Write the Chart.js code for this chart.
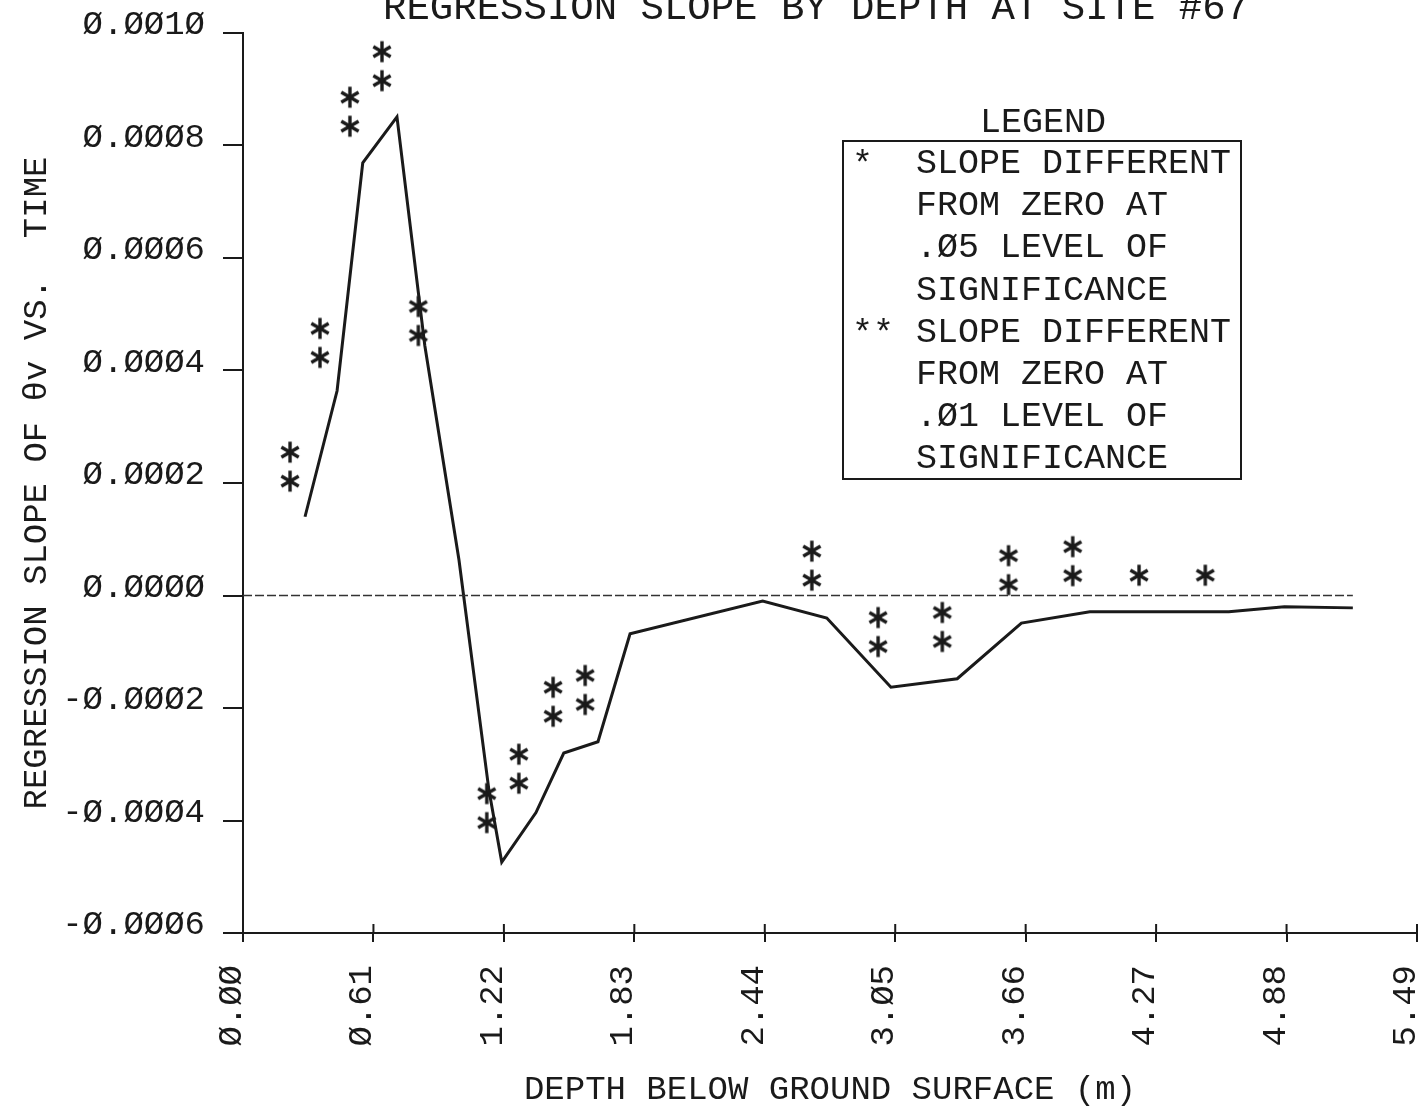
<!DOCTYPE html>
<html>
<head>
<meta charset="utf-8">
<script src="https://cdn.jsdelivr.net/npm/chart.js@4/dist/chart.umd.min.js"></script>
<style>
html,body{margin:0;padding:0;background:#fff;overflow:hidden}
#wrap{width:1424px;height:1110px;position:relative;background:#fff}
</style>
</head>
<body>
<div id="wrap"><canvas id="c" width="1424" height="1110"></canvas></div>
<script>
// ---- text ----
const chartTitle = "REGRESSION SLOPE BY DEPTH AT SITE #67";
const xAxisTitle = "DEPTH BELOW GROUND SURFACE (m)";
const yAxisTitle = "REGRESSION SLOPE OF θv VS.  TIME";

// ---- tick values / labels ----
const xTickValues = [0, 0.61, 1.22, 1.83, 2.44, 3.05, 3.66, 4.27, 4.88, 5.49];
const xTickLabels = ["Ø.ØØ", "Ø.61", "1.22", "1.83", "2.44", "3.Ø5", "3.66", "4.27", "4.88", "5.49"];
const yTickValues = [-0.0006, -0.0004, -0.0002, 0, 0.0002, 0.0004, 0.0006, 0.0008, 0.0010];
const yTickLabels = ["-Ø.ØØØ6", "-Ø.ØØØ4", "-Ø.ØØØ2", "Ø.ØØØØ", "Ø.ØØØ2", "Ø.ØØØ4", "Ø.ØØØ6", "Ø.ØØØ8", "Ø.ØØ1Ø"];

// ---- regression slope by depth (line) ----
const lineDepth = [0.29, 0.44, 0.56, 0.72, 0.85, 1.01, 1.15, 1.21, 1.37, 1.50, 1.66, 1.81, 2.43, 2.73, 3.03, 3.34, 3.64, 3.96, 4.61, 4.87, 5.19];
const lineSlope = [0.000140, 0.000364, 0.000769, 0.000851, 0.000445, 0.000063, -0.000346, -0.000474, -0.000386, -0.000280, -0.000260, -0.000068, -0.000010, -0.000040, -0.000163, -0.000148, -0.000049, -0.000029, -0.000029, -0.000020, -0.000022];

// ---- zero reference line ----
const zeroDepth = [0, 5.19];
const zeroSlope = [0, 0];

// ---- significance markers: ** (.01 level) ----
const sig01Depth = [0.22, 0.36, 0.50, 0.65, 0.82, 1.14, 1.29, 1.45, 1.60, 2.66, 2.97, 3.27, 3.58, 3.88];
const sig01Slope = [0.000229, 0.000449, 0.000860, 0.000941, 0.000488, -0.000378, -0.000308, -0.000189, -0.000168, 0.000053, -0.000065, -0.000056, 0.000045, 0.000061];

// ---- significance markers: * (.05 level) ----
const sig05Depth = [4.19, 4.50];
const sig05Slope = [0.000036, 0.000036];

// ---- legend ----
const legendTitle = "LEGEND";
const legendSymbols = ["*", "**"];
const legendLines = [
  ["SLOPE DIFFERENT", "FROM ZERO AT", ".Ø5 LEVEL OF", "SIGNIFICANCE"],
  ["SLOPE DIFFERENT", "FROM ZERO AT", ".Ø1 LEVEL OF", "SIGNIFICANCE"]
];

const INK = '#1a1a1a';
const FONT = '"Liberation Mono", "DejaVu Sans Mono", monospace';

function starImage(n) {
  const c = document.createElement('canvas');
  const w = 24, gap = 29;
  c.width = w; c.height = w + (n - 1) * gap;
  const g = c.getContext('2d');
  g.strokeStyle = INK; g.lineWidth = 3.4; g.lineCap = 'butt';
  for (let k = 0; k < n; k++) {
    const cx = w / 2, cy = w / 2 + k * gap;
    [[90, 10.5], [30, 10], [150, 10]].forEach(([a, r]) => {
      const t = a * Math.PI / 180;
      g.beginPath();
      g.moveTo(cx - r * Math.cos(t), cy - r * Math.sin(t));
      g.lineTo(cx + r * Math.cos(t), cy + r * Math.sin(t));
      g.stroke();
    });
  }
  return c;
}

const pts = (xs, ys) => xs.map((x, i) => ({ x, y: ys[i] }));

const extras = {
  id: 'extras',
  afterDraw(chart) {
    const { ctx, chartArea: a, scales: { x } } = chart;
    ctx.save();
    // upward half of x tick marks and axis stub
    ctx.strokeStyle = INK; ctx.lineWidth = 2;
    ctx.beginPath();
    xTickValues.forEach(v => {
      const px = x.getPixelForValue(v);
      ctx.moveTo(px, a.bottom); ctx.lineTo(px, a.bottom - 9);
    });
    ctx.moveTo(a.left - 12, a.bottom); ctx.lineTo(a.left, a.bottom);
    ctx.stroke();

    // chart title (clipped at top of page)
    ctx.fillStyle = INK;
    ctx.font = '39px ' + FONT;
    ctx.textAlign = 'center';
    ctx.textBaseline = 'alphabetic';
    ctx.fillText(chartTitle, 816, 19);

    // legend
    ctx.font = '35px ' + FONT;
    ctx.textBaseline = 'middle';
    ctx.textAlign = 'center';
    ctx.fillText(legendTitle, 1043, 123);
    ctx.lineWidth = 2;
    ctx.strokeRect(843, 141, 398, 338);
    ctx.textAlign = 'left';
    let row = 0;
    legendLines.forEach((group, gi) => {
      group.forEach((line, li) => {
        const yy = 164 + row * 42.1;
        if (li === 0) ctx.fillText(legendSymbols[gi], 852, yy + 2);
        ctx.fillText(line, 916, yy);
        row++;
      });
    });
    ctx.restore();
  }
};

new Chart(document.getElementById('c').getContext('2d'), {
  type: 'scatter',
  data: {
    datasets: [
      { label: 'zero', data: pts(zeroDepth, zeroSlope), showLine: true, borderColor: '#333', borderWidth: 1.5, borderDash: [9, 3], pointRadius: 0 },
      { label: 'slope', data: pts(lineDepth, lineSlope), showLine: true, borderColor: INK, borderWidth: 3, pointRadius: 0, tension: 0 },
      { label: '.01', data: pts(sig01Depth, sig01Slope), pointStyle: starImage(2), pointRadius: 6 },
      { label: '.05', data: pts(sig05Depth, sig05Slope), pointStyle: starImage(1), pointRadius: 6 }
    ]
  },
  options: {
    responsive: false,
    animation: false,
    events: [],
    layout: { padding: { top: 33, left: 0, right: 0, bottom: 0 } },
    plugins: { legend: { display: false }, tooltip: { enabled: false }, title: { display: false } },
    scales: {
      x: {
        type: 'linear', min: 0, max: 5.49,
        afterBuildTicks: s => { s.ticks = xTickValues.map(v => ({ value: v })); },
        afterFit: s => { s.height = 177; s.paddingRight = 6; s.paddingLeft = 0; },
        grid: { display: true, drawOnChartArea: false, drawTicks: true, tickLength: 9, color: INK, lineWidth: 2 },
        border: { display: true, color: INK, width: 2 },
        ticks: {
          autoSkip: false, minRotation: 90, maxRotation: 90, padding: 23, labelOffset: -11,
          color: INK, font: { family: FONT, size: 34 },
          callback: (v, i) => xTickLabels[i]
        },
        title: { display: true, text: xAxisTitle, color: INK, font: { family: FONT, size: 34 }, padding: { top: 0, bottom: 0 } }
      },
      y: {
        type: 'linear', min: -0.0006, max: 0.0010,
        afterBuildTicks: s => { s.ticks = yTickValues.map(v => ({ value: v })); },
        afterFit: s => { s.width = 243; s.paddingTop = 0; s.paddingBottom = 0; },
        grid: { display: true, drawOnChartArea: false, drawTicks: true, tickLength: 20, color: INK, lineWidth: 2 },
        border: { display: true, color: INK, width: 2 },
        ticks: {
          padding: 18, labelOffset: -8, color: INK, font: { family: FONT, size: 34 },
          callback: (v, i) => yTickLabels[i]
        },
        title: { display: true, text: yAxisTitle, color: INK, font: { family: FONT, size: 34 }, padding: { top: 17, bottom: 0 } }
      }
    }
  },
  plugins: [extras]
});
</script>
</body>
</html>
